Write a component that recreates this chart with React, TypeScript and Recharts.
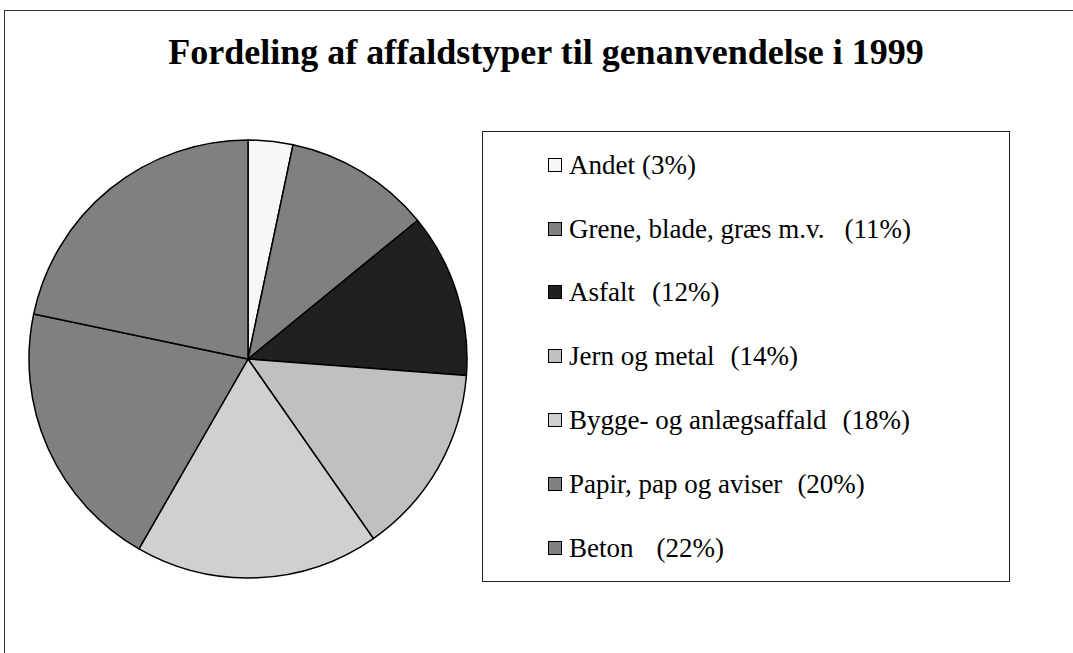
import { PieChart, Pie, Cell } from "recharts";

const categories = [
  "Andet",
  "Grene, blade, græs m.v.",
  "Asfalt",
  "Jern og metal",
  "Bygge- og anlægsaffald",
  "Papir, pap og aviser",
  "Beton",
];
const shares = [3.3, 10.8, 12.1, 14.1, 18, 20, 21.7];
const shareLabels = ["(3%)", "(11%)", "(12%)", "(14%)", "(18%)", "(20%)", "(22%)"];
const fills = ["#f7f7f7", "#808080", "#202020", "#c0c0c0", "#d0d0d0", "#808080", "#808080"];

const data = categories.map((name, i) => ({ name, value: shares[i], label: shareLabels[i] }));

const serif = "'Liberation Serif', 'Times New Roman', serif";
// gap between name and percentage in the legend, as in the original
const labelGaps = [7, 20, 17, 16, 16, 15, 23];

function LegendBox() {
  return (
    <div
      style={{
        position: "absolute",
        left: 482,
        top: 131,
        width: 528,
        height: 451,
        boxSizing: "border-box",
        border: "1.5px solid #222",
        paddingTop: 1,
        color: "#000",
      }}
    >
      {data.map((d, i) => (
        <div key={d.name} style={{ height: 63.8, display: "flex", alignItems: "center", paddingLeft: 65 }}>
          <span
            style={{
              width: 12,
              height: 12,
              background: fills[i],
              border: "1.5px solid #000",
              marginRight: 7,
              flexShrink: 0,
            }}
          />
          <div style={{ fontFamily: serif, fontSize: 27, lineHeight: "30px", whiteSpace: "nowrap" }}>
            {d.name}
            <span style={{ marginLeft: labelGaps[i] }}>{d.label}</span>
          </div>
        </div>
      ))}
    </div>
  );
}

export default function App() {
  return (
    <div style={{ position: "absolute", left: 0, top: 0, width: 1073, height: 653, overflow: "hidden", background: "#fff" }}>
      <div
        style={{
          position: "absolute",
          left: 4,
          top: 10,
          width: 1100,
          height: 700,
          border: "1.5px solid #333",
        }}
      />
      <div
        style={{
          position: "absolute",
          left: 0,
          top: 31,
          width: 1092,
          textAlign: "center",
          fontFamily: serif,
          fontWeight: "bold",
          fontSize: 36,
          lineHeight: "42px",
          color: "#000",
        }}
      >
        Fordeling af affaldstyper til genanvendelse i 1999
      </div>
      <div style={{ position: "absolute", left: 0, top: 0 }}>
        <PieChart width={1073} height={653} margin={{ top: 0, right: 0, bottom: 0, left: 0 }}>
          <Pie
            data={data}
            dataKey="value"
            nameKey="name"
            cx={248}
            cy={359}
            outerRadius={219}
            startAngle={90}
            endAngle={-270}
            stroke="#000"
            strokeWidth={1.5}
            isAnimationActive={false}
          >
            {data.map((d, i) => (
              <Cell key={d.name} fill={fills[i]} />
            ))}
          </Pie>
        </PieChart>
      </div>
      <LegendBox />
    </div>
  );
}
